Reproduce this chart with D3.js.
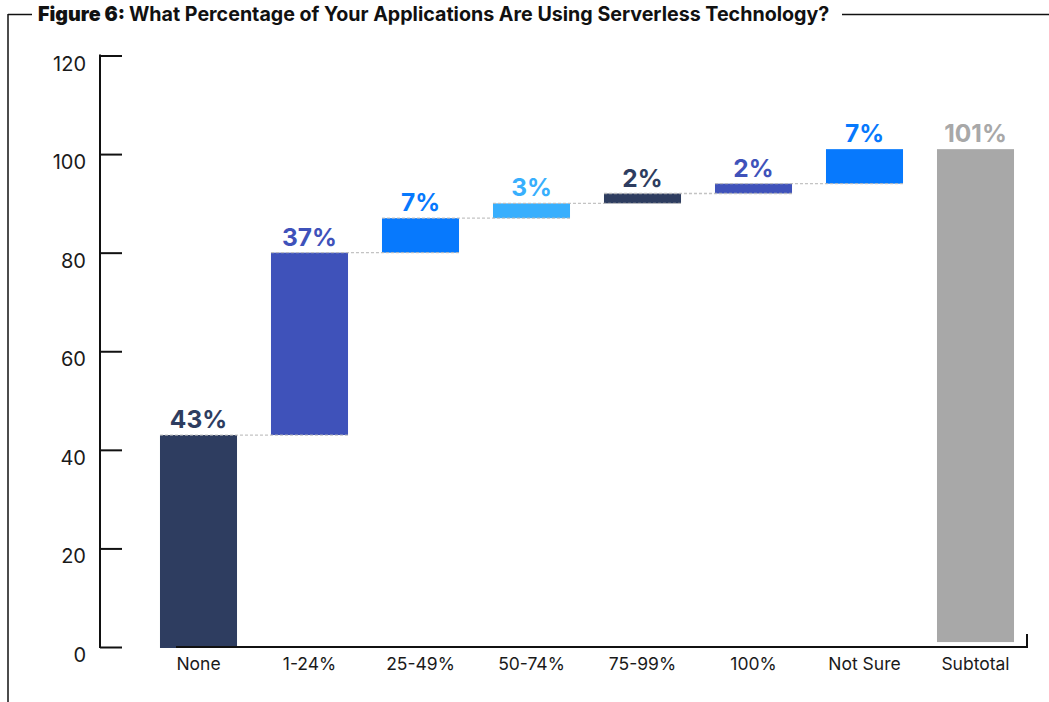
<!DOCTYPE html>
<html>
<head>
<meta charset="utf-8">
<script src="https://cdn.jsdelivr.net/npm/d3@7"></script>
<style>
  html, body { margin: 0; padding: 0; background: #fff; }
  svg { display: block; }
</style>
</head>
<body>
<svg id="chart" width="1049" height="702" font-family="Inter, Liberation Sans, sans-serif"></svg>
<script>
// Survey responses: share of applications using serverless technology
const categories = ["None", "1-24%", "25-49%", "50-74%", "75-99%", "100%", "Not Sure"];
const stepValues = [43, 37, 7, 3, 2, 2, 7];
const subtotalLabel = "Subtotal";
const subtotalValue = 101;
const subtotalBase = 1;
const yTicks = [0, 20, 40, 60, 80, 100, 120];
const barColors = ["#2e3d60", "#3f52ba", "#0779fd", "#38affd", "#2e3d60", "#3f52ba", "#0779fd"];
const subtotalColor = "#a8a8a8";

const svg = d3.select("#chart");
const W = 1049, H = 702;
const FONT = "Inter, 'Liberation Sans', sans-serif";

// Frame around the figure with the title set into its top edge
svg.append("line").attr("x1", 8).attr("x2", 8).attr("y1", 14).attr("y2", H)
  .attr("stroke", "#111").attr("stroke-width", 1.5);
svg.append("line").attr("x1", 8).attr("x2", 32).attr("y1", 14.5).attr("y2", 14.5)
  .attr("stroke", "#111").attr("stroke-width", 1.5);
svg.append("line").attr("x1", 842).attr("x2", W).attr("y1", 14.5).attr("y2", 14.5)
  .attr("stroke", "#111").attr("stroke-width", 1.5);

const title = svg.append("text").attr("x", 38).attr("y", 21)
  .attr("font-size", 17).attr("fill", "#111").style("font-family", FONT);
title.append("tspan").attr("font-weight", 900).text("Figure 6: ");
title.append("tspan").attr("font-weight", 700).text("What Percentage of Your Applications Are Using Serverless Technology?");
// fit the title between the frame segments
const tw = title.node().getComputedTextLength();
title.attr("font-size", 17 * 792 / tw);

// Scales
const allCats = categories.concat([subtotalLabel]);
const x = d3.scaleBand().domain(allCats).range([143, 1031])
  .paddingInner(0.306).paddingOuter(0.153);
const y = d3.scaleLinear().domain([0, 120]).range([647, 55.5]);

// Waterfall segments
let running = 0;
const segments = categories.map((c, i) => {
  const start = running;
  running += stepValues[i];
  return { cat: c, start, end: running, value: stepValues[i], color: barColors[i] };
});
segments.push({ cat: subtotalLabel, start: subtotalBase, end: subtotalValue, value: subtotalValue, color: subtotalColor });

// Y axis
const yAxis = svg.append("g").attr("transform", "translate(100,0)")
  .call(d3.axisRight(y).tickValues(yTicks).tickSize(22).tickFormat(""));
yAxis.select(".domain").remove();
yAxis.selectAll(".tick line").attr("stroke", "#111").attr("stroke-width", 2);
svg.append("line").attr("x1", 100).attr("x2", 100).attr("y1", y(120) - 1).attr("y2", y(0) + 1)
  .attr("stroke", "#111").attr("stroke-width", 2);
svg.append("g").selectAll("text").data(yTicks).join("text")
  .attr("x", 86).attr("y", d => y(d) + 8).attr("dy", "0.35em")
  .attr("text-anchor", "end").attr("font-size", 20).attr("fill", "#1a1a1a")
  .style("font-family", FONT)
  .text(d => d);

// Bars
svg.append("g").selectAll("rect").data(segments).join("rect")
  .attr("x", d => x(d.cat))
  .attr("width", x.bandwidth())
  .attr("y", d => y(d.end))
  .attr("height", d => Math.max(1, y(d.start) - y(d.end)) + (d.start === 0 ? 1 : 0))
  .attr("fill", d => d.color);

// Dashed connectors between consecutive steps
const connectors = segments.slice(0, categories.length - 1).map((d, i) => ({
  v: d.end, x1: x(d.cat), x2: x(segments[i + 1].cat) + x.bandwidth()
}));
svg.append("g").selectAll("line").data(connectors).join("line")
  .attr("x1", d => d.x1).attr("x2", d => d.x2)
  .attr("y1", d => y(d.v)).attr("y2", d => y(d.v))
  .attr("stroke", "#b8b8b8").attr("stroke-opacity", 0.85)
  .attr("stroke-width", 1.3).attr("stroke-dasharray", "3,2");

// X axis line with closing tick on the right
svg.append("path")
  .attr("d", `M176,${y(0)}H1027V${y(0) - 13}`)
  .attr("fill", "none").attr("stroke", "#111").attr("stroke-width", 2);

// Category labels
svg.append("g").selectAll("text").data(allCats).join("text")
  .attr("x", d => x(d) + x.bandwidth() / 2).attr("y", 670)
  .attr("text-anchor", "middle").attr("font-size", 17.5).attr("fill", "#1a1a1a")
  .style("font-family", FONT)
  .text(d => d);

// Value labels
svg.append("g").selectAll("text").data(segments).join("text")
  .attr("x", d => x(d.cat) + x.bandwidth() / 2).attr("y", d => y(d.end) - 7)
  .attr("text-anchor", "middle").attr("font-size", 24.5).attr("font-weight", 700)
  .attr("fill", d => d.color)
  .style("font-family", FONT)
  .text(d => d.value + "%");
</script>
</body>
</html>
